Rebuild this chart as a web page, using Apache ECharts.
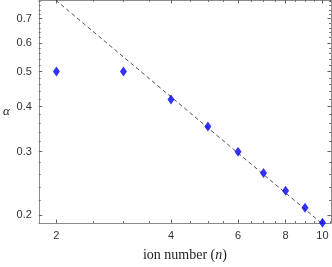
<!DOCTYPE html>
<html><head><meta charset="utf-8">
<script src="https://cdn.jsdelivr.net/npm/echarts@6/dist/echarts.min.js"></script>
<style>html,body{margin:0;padding:0;background:#fff}#c{width:332px;height:267px}</style>
</head><body><div id="c"></div>
<script>
// data
const ionN = [2, 3, 4, 5, 6, 7, 8, 9, 10];
const alphaVals = [0.5, 0.5, 0.418, 0.352, 0.300, 0.262, 0.234, 0.210, 0.191];
// dashed fit line endpoints
const fitN = [1.99, 10.0];
const fitAlpha = [0.788, 0.1895];
// axis ranges and ticks
const xRange = [1.798, 10.53];
const yRange = [0.1906, 0.788];
const xMajor = [2, 4, 6, 8, 10];
const xMinor = [2.5, 3, 3.5, 4.5, 5, 5.5, 6.5, 7, 7.5, 8.5, 9, 9.5, 10.5];
const yMajor = [0.2, 0.3, 0.4, 0.5, 0.6, 0.7];
const yMinor = [0.22, 0.24, 0.26, 0.28, 0.32, 0.34, 0.36, 0.38, 0.42, 0.44, 0.46, 0.48, 0.52, 0.54, 0.56, 0.58, 0.62, 0.64, 0.66, 0.68, 0.72, 0.74, 0.76, 0.78];

const L = Math.log10;
const fmt = v => { const r = Math.pow(10, v); return String(Math.round(r * 10) / 10); };
const axisCol = '#8c8c8c';
const xBase = { type: 'value', min: L(xRange[0]), max: L(xRange[1]), splitLine: { show: false } };
const yBase = { type: 'value', min: L(yRange[0]), max: L(yRange[1]), splitLine: { show: false } };
function tickAx(base, pos, vals, len, showLine, labels, extra) {
  return Object.assign({}, base, {
    position: pos,
    axisLine: { show: showLine, onZero: false, lineStyle: { color: axisCol, width: 1 } },
    axisTick: { show: true, inside: true, length: len, customValues: vals.map(L), lineStyle: { color: '#666', width: 1 } },
    axisLabel: labels ? { show: true, customValues: vals.map(L), formatter: fmt, color: '#333', fontFamily: 'Liberation Sans', fontSize: 11, margin: 7 } : { show: false }
  }, extra || {});
}
const chart = echarts.init(document.getElementById('c'), null, { renderer: 'canvas' });
chart.setOption({
  animation: false,
  grid: { left: 33, right: 1, top: 0, bottom: 39, containLabel: false },
  xAxis: [
    tickAx(xBase, 'bottom', xMajor, 3.5, true, true, {
      name: '{a|ion number (}{b|n}{a|)}', nameLocation: 'middle', nameGap: 25,
      nameTextStyle: { rich: {
        a: { fontFamily: 'Liberation Serif', fontSize: 14, color: '#222' },
        b: { fontFamily: 'Liberation Serif', fontSize: 14, fontStyle: 'italic', color: '#222' } } }
    }),
    tickAx(xBase, 'bottom', xMinor, 1.8, false, false),
    tickAx(xBase, 'top', xMajor, 3.5, true, false),
    tickAx(xBase, 'top', xMinor, 1.8, false, false)
  ],
  yAxis: [
    tickAx(yBase, 'left', yMajor, 3.5, true, true, {
      name: 'α', nameLocation: 'middle', nameRotate: 0, nameGap: 29,
      nameTextStyle: { fontFamily: 'Liberation Serif', fontSize: 13, fontStyle: 'italic', color: '#222', padding: [8, 0, 0, 0] }
    }),
    tickAx(yBase, 'left', yMinor, 1.8, false, false),
    tickAx(yBase, 'right', yMajor, 3.5, true, false),
    tickAx(yBase, 'right', yMinor, 1.8, false, false)
  ],
  series: [
    {
      type: 'line', xAxisIndex: 0, yAxisIndex: 0, clip: true, symbol: 'none',
      data: fitN.map((n, i) => [L(n), L(fitAlpha[i])]),
      lineStyle: { color: '#222', width: 0.8, type: [4, 3] }, z: 2
    },
    {
      type: 'scatter', xAxisIndex: 0, yAxisIndex: 0, symbol: 'diamond', symbolSize: [7, 10],
      data: ionN.map((n, i) => [L(n), L(alphaVals[i])]),
      itemStyle: { color: '#0000ee' }, z: 3, clip: false
    }
  ]
});
</script></body></html>
